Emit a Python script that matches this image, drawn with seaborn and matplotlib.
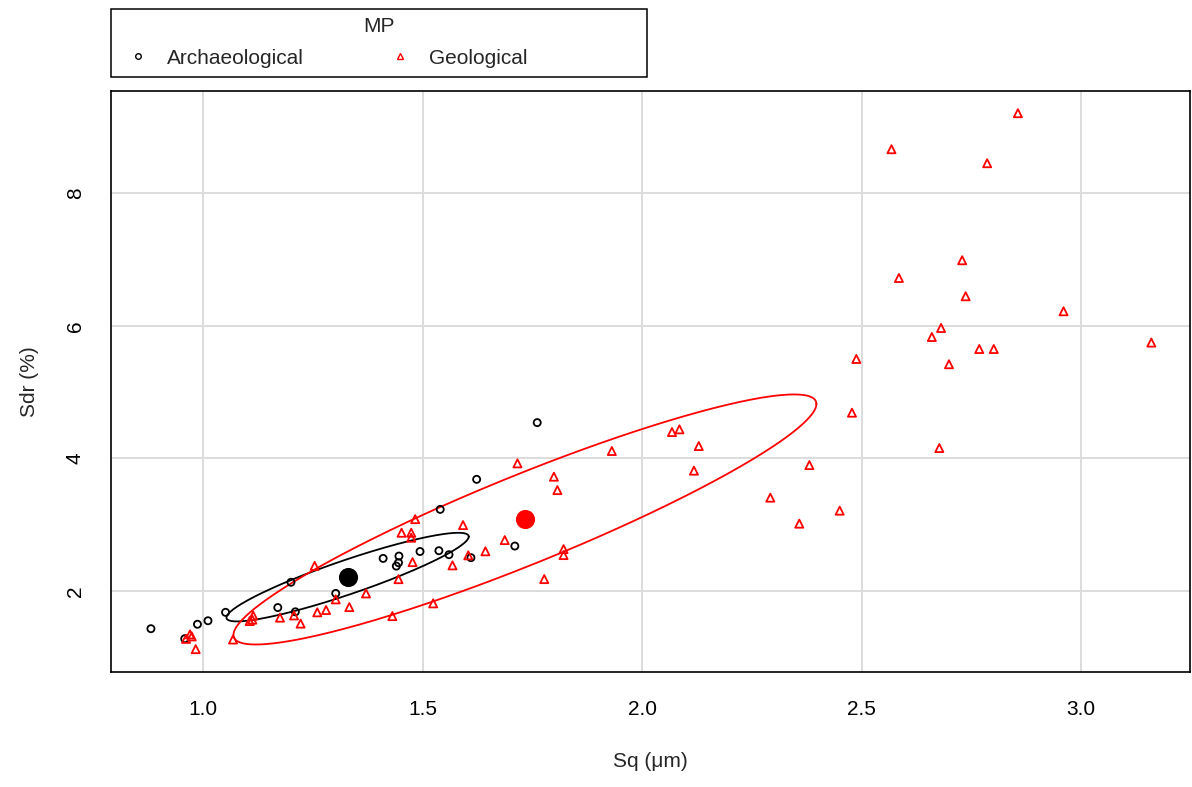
import numpy as np
import pandas as pd
import matplotlib
matplotlib.use("Agg")
import matplotlib.pyplot as plt
import seaborn as sns
from matplotlib.lines import Line2D
from matplotlib.patches import Rectangle

# ---------------- data ----------------
arch_sq = [0.881, 0.958, 0.987, 1.011, 1.051, 1.170, 1.200, 1.210, 1.302, 1.410,
           1.440, 1.445, 1.446, 1.494, 1.537, 1.540, 1.560, 1.610, 1.623, 1.710, 1.761]
arch_sdr = [1.433, 1.282, 1.500, 1.553, 1.680, 1.752, 2.133, 1.688, 1.965, 2.493,
            2.377, 2.428, 2.528, 2.597, 2.609, 3.232, 2.549, 2.504, 3.685, 2.679, 4.540]

geo_sq = [0.961, 0.970, 0.974, 0.983, 1.068, 1.106, 1.112, 1.114, 1.175, 1.207,
          1.222, 1.254, 1.260, 1.280, 1.302, 1.333, 1.371, 1.431, 1.445, 1.452,
          1.474, 1.474, 1.477, 1.483, 1.524, 1.568, 1.592, 1.604, 1.643, 1.687,
          1.716, 1.777, 1.799, 1.807, 1.821, 1.821, 1.931, 2.068, 2.085, 2.118,
          2.129, 2.292, 2.358, 2.381, 2.450, 2.478, 2.488, 2.568, 2.585, 2.660,
          2.677, 2.681, 2.699, 2.729, 2.737, 2.768, 2.786, 2.801, 2.856, 2.960, 3.160]
geo_sdr = [1.280, 1.347, 1.317, 1.125, 1.270, 1.548, 1.570, 1.630, 1.600, 1.633,
           1.510, 2.380, 1.680, 1.715, 1.875, 1.759, 1.965, 1.623, 2.180, 2.880,
           2.880, 2.805, 2.437, 3.085, 1.815, 2.388, 2.995, 2.539, 2.600, 2.769,
           3.926, 2.181, 3.725, 3.523, 2.633, 2.543, 4.112, 4.398, 4.439, 3.816,
           4.187, 3.409, 3.017, 3.900, 3.213, 4.690, 5.500, 8.662, 6.721, 5.831,
           4.157, 5.967, 5.420, 6.988, 6.445, 5.650, 8.451, 5.650, 9.205, 6.219, 5.747]

groups = ["Archaeological", "Geological"]
group_colors = ["black", "red"]
centroid_sq = [1.329, 1.733]
centroid_sdr = [2.211, 3.080]
# ellipse: half extent in Sq, half extent in Sdr, phase lag (deg)
ell_half_sq = [0.276, 0.664]
ell_half_sdr = [0.668, 1.885]
ell_phase_deg = [24.0, 22.6]

x_ticks = [1.0, 1.5, 2.0, 2.5, 3.0]
x_ticklabels = ["1.0", "1.5", "2.0", "2.5", "3.0"]
y_ticks = [2, 4, 6, 8]
y_ticklabels = ["2", "4", "6", "8"]

# ---------------- build tables ----------------
df = pd.concat([
    pd.DataFrame({"Sq": arch_sq, "Sdr": arch_sdr, "MP": groups[0]}),
    pd.DataFrame({"Sq": geo_sq, "Sdr": geo_sdr, "MP": groups[1]}),
], ignore_index=True)
cent = pd.DataFrame({"Sq": centroid_sq, "Sdr": centroid_sdr, "MP": groups})

sns.set_style("white")
plt.rcParams["font.family"] = ["Liberation Sans", "DejaVu Sans"]

W, H = 1192, 787
fig = plt.figure(figsize=(W / 100, H / 100), dpi=100)
ax = fig.add_axes([0.0931, 0.1461, 0.9052, 0.7383])

# ellipses
t = np.linspace(0, 2 * np.pi, 400)
for i, g in enumerate(groups):
    ph = np.deg2rad(ell_phase_deg[i])
    ex = centroid_sq[i] + ell_half_sq[i] * np.cos(t)
    ey = centroid_sdr[i] + ell_half_sdr[i] * np.cos(t - ph)
    ax.plot(ex, ey, color=group_colors[i], lw=1.3, zorder=3)

# points
markers = ["o", "^"]
sizes = [26, 34]
for i, g in enumerate(groups):
    sub = df[df["MP"] == g]
    sns.scatterplot(data=sub, x="Sq", y="Sdr", ax=ax, marker=markers[i],
                    s=sizes[i], facecolor="none", edgecolor=group_colors[i],
                    color=group_colors[i], linewidth=1.3, legend=False, zorder=4)

# centroids
for i, g in enumerate(groups):
    sns.scatterplot(data=cent[cent["MP"] == g], x="Sq", y="Sdr", ax=ax,
                    marker="o", s=190, color=group_colors[i], edgecolor=group_colors[i],
                    linewidth=0, legend=False, zorder=5)

ax.set_xlim(0.790, 3.248)
ax.set_ylim(0.78, 9.54)
ax.set_xticks(x_ticks)
ax.set_xticklabels(x_ticklabels)
ax.set_yticks(y_ticks)
ax.set_yticklabels(y_ticklabels, rotation=90, va="center")
ax.tick_params(direction="out", length=8.8, width=1.0, labelsize=15, pad=11.5,
               color="black", labelcolor="black")
ax.tick_params(axis="y", pad=10)
ax.grid(True, color="#DCDCDC", lw=1.4)
ax.set_axisbelow(True)
for sp in ax.spines.values():
    sp.set_color("black")
    sp.set_linewidth(1.2)
    sp.set_visible(True)

ax.set_xlabel("Sq (μm)", fontsize=15, labelpad=23.5)
ax.set_ylabel("Sdr (%)", fontsize=15, labelpad=19.5)

# legend: frame, title and entries
fig.add_artist(Rectangle((111 / W, 1 - 77 / H), 536 / W, 68 / H,
                         transform=fig.transFigure, fill=False,
                         edgecolor="black", lw=1.1))
fig.text(379 / W, 1 - 26 / H, "MP", ha="center", va="center", fontsize=15)
handles = [Line2D([], [], ls="none", marker="o", markersize=4, markerfacecolor="none",
                  markeredgecolor="black", markeredgewidth=1.0),
           Line2D([], [], ls="none", marker="^", markersize=5, markerfacecolor="none",
                  markeredgecolor="red", markeredgewidth=1.0)]
fig.legend(handles, groups, ncol=2, loc="center left",
           bbox_to_anchor=(127.6 / W, 1 - 58 / H), borderaxespad=0, borderpad=0,
           fontsize=15, frameon=False, handlelength=1.0, handletextpad=0.9,
           columnspacing=4.1)

fig.savefig("out.png", dpi=100)
